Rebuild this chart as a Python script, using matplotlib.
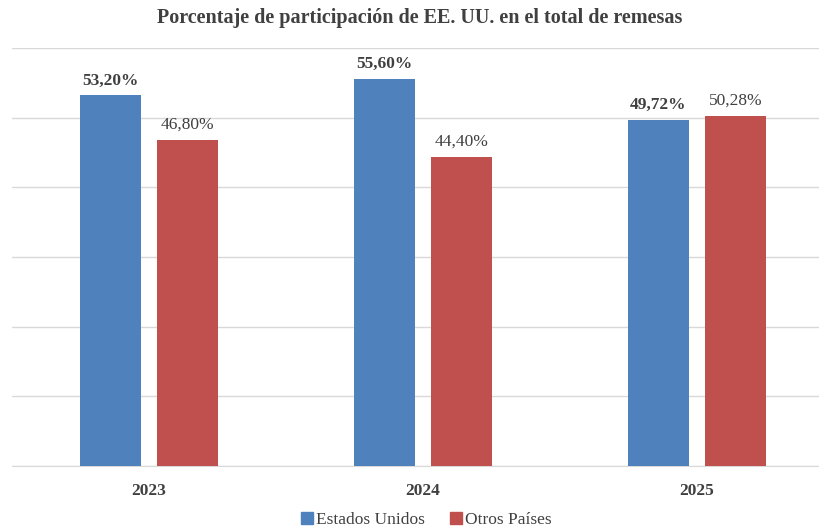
import matplotlib
matplotlib.use("Agg")
import matplotlib.pyplot as plt
import numpy as np
from matplotlib.lines import Line2D

years = ["2023", "2024", "2025"]
eeuu = [53.20, 55.60, 49.72]
otros = [46.80, 44.40, 50.28]
eeuu_labels = ["53,20%", "55,60%", "49,72%"]
otros_labels = ["46,80%", "44,40%", "50,28%"]

blue = "#4F81BD"
red = "#C0504D"
txt = "#404040"
serif = ["Liberation Serif", "DejaVu Serif"]

fig = plt.figure(figsize=(8.2, 5.31), dpi=100)
W, H = 820, 531
left, right, top, bottom = 12, 834, 48, 466
ax = fig.add_axes([left / W, 1 - bottom / H, (right - left) / W, (bottom - top) / H])

x = np.arange(len(years))
bw = 0.223
off = 0.142
ax.bar(x - off, eeuu, bw, color=blue, zorder=3)
ax.bar(x + off, otros, bw, color=red, zorder=3)

for xi, v, l in zip(x, eeuu, eeuu_labels):
    ax.text(xi - off, v + 1.0, l, ha="center", va="bottom", fontsize=12.5,
            fontweight="bold", color=txt, family=serif)
for xi, v, l in zip(x, otros, otros_labels):
    ax.text(xi + off, v + 1.0, l, ha="center", va="bottom", fontsize=12.5,
            color=txt, family=serif)

ax.set_xlim(-0.5, 2.5)
ax.set_ylim(0, 60)
ax.set_yticks(np.arange(0, 61, 10))
ax.yaxis.grid(True, color="#D9D9D9", linewidth=1, zorder=0)
ax.tick_params(axis="y", left=False, labelleft=False)
ax.tick_params(axis="x", bottom=False, pad=9)
ax.set_xticks(x)
ax.set_xticklabels(years, fontsize=12.5, fontweight="bold", color=txt, family=serif)
for s in ["top", "right", "left"]:
    ax.spines[s].set_visible(False)
ax.spines["bottom"].set_color("#D9D9D9")

fig.text(420 / W, 1 - 18 / H, "Porcentaje de participación de EE. UU. en el total de remesas",
         ha="center", va="center", fontsize=14.5, fontweight="bold", color=txt, family=serif)

handles = [Line2D([], [], marker="s", linestyle="", markersize=8, color=blue),
           Line2D([], [], marker="s", linestyle="", markersize=8, color=red)]
fig.legend(handles, ["Estados Unidos", "Otros Países"], loc="center",
           bbox_to_anchor=(426 / W, 1 - 520 / H), ncol=2, frameon=False,
           prop={"family": serif, "size": 12.5}, handletextpad=0.1, columnspacing=1.4,
           handlelength=0.8, labelcolor=txt)

fig.savefig("out.png", dpi=100)
